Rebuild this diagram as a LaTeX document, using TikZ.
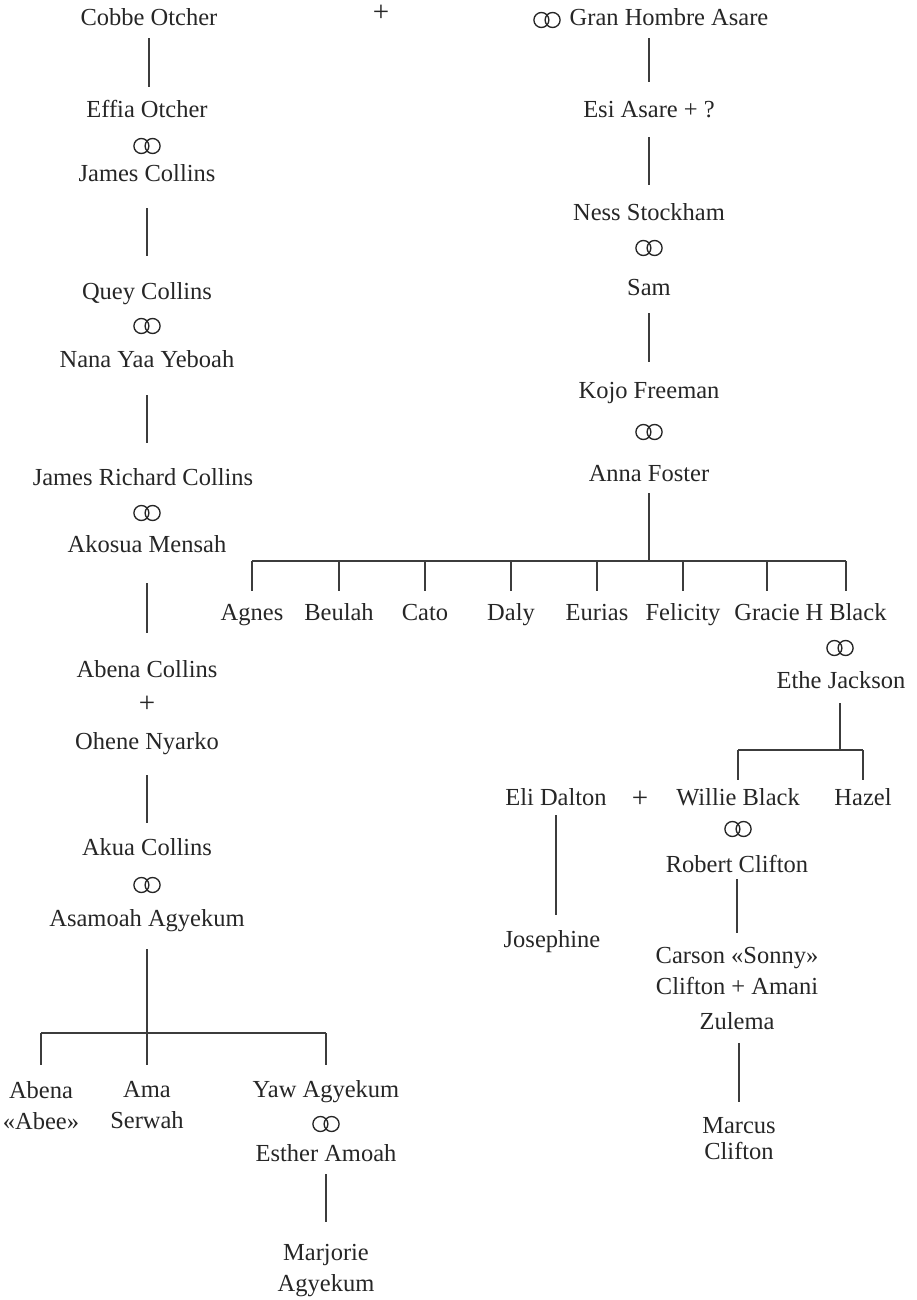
\documentclass[tikz,border=0pt]{standalone}
\usepackage{fontspec}
\setmainfont{Liberation Serif}
\usepackage{tikz}
\definecolor{ink}{HTML}{262626}
\definecolor{wire}{HTML}{3C3C3C}
\newcommand{\namesize}{\fontsize{24.5}{31}\selectfont}

\begin{document}
\begin{tikzpicture}[x=1pt, y=-1pt,
  person/.style={inner sep=0pt, text height=16pt, text depth=0pt, font=\namesize, text=ink},
  multi/.style={inner sep=0pt, anchor=north, align=center, font=\namesize, text=ink},
  wed/.style={inner sep=0pt, minimum width=32pt, minimum height=21pt,
    path picture={
      \draw[ink, line width=1.35pt] ([xshift=-5.6pt]path picture bounding box.center) circle (7.5pt);
      \draw[ink, line width=1.35pt] ([xshift=5.6pt]path picture bounding box.center) circle (7.5pt);}},
  union/.style={inner sep=0pt, font=\fontsize{29}{31}\selectfont, text=ink},
  link/.style 2 args={draw=wire, line width=1.1pt, shorten <=#1pt, shorten >=#2pt}]
\useasboundingbox (0,0) rectangle (917,1300);

\node[person] (cobbe) at (149,18) {Cobbe Otcher};
\node[union] (u0) at (381,13) {+};
\node[wed] (w0) at (547,20) {};
\node[person] (gran) at (669,18) {Gran Hombre Asare};

\node[person] (effia) at (147,110) {Effia Otcher};
\node[wed] (w1) at (147,146) {};
\node[person] (james) at (147,174) {James Collins};
\node[person] (quey) at (147,291) {Quey Collins};
\node[wed] (w2) at (147,326) {};
\node[person] (nana) at (147,359) {Nana Yaa Yeboah};
\node[person] (jamesr) at (143,477) {James Richard Collins};
\node[wed] (w3) at (147,513) {};
\node[person] (akosua) at (147,544) {Akosua Mensah};
\node[person] (abena) at (147,669) {Abena Collins};
\node[union] (u1) at (147,704) {+};
\node[person] (ohene) at (147,741) {Ohene Nyarko};
\node[person] (akua) at (147,847) {Akua Collins};
\node[wed] (w4) at (147,885) {};
\node[person] (asamoah) at (147,918) {Asamoah Agyekum};
\node[multi] (abee) at (41,1081) {Abena\\«Abee»};
\node[multi] (ama) at (147,1081) {Ama\\Serwah};
\node[person] (yaw) at (326,1089) {Yaw Agyekum};
\node[wed] (w5) at (326,1124) {};
\node[person] (esther) at (326,1153) {Esther Amoah};
\node[multi] (marjorie) at (326,1244) {Marjorie\\Agyekum};

\node[person] (esi) at (649,110) {Esi Asare + ?};
\node[person] (ness) at (649,212) {Ness Stockham};
\node[wed] (w6) at (649,248) {};
\node[person] (sam) at (649,287) {Sam};
\node[person] (kojo) at (649,390) {Kojo Freeman};
\node[wed] (w7) at (649,432) {};
\node[person] (anna) at (649,473) {Anna Foster};
\node[person] (agnes) at (252,612) {Agnes};
\node[person] (beulah) at (339,612) {Beulah};
\node[person] (cato) at (425,612) {Cato};
\node[person] (daly) at (511,612) {Daly};
\node[person] (eurias) at (597,612) {Eurias};
\node[person] (felicity) at (683,612) {Felicity};
\node[person] (gracie) at (767,612) {Gracie};
\node[person] (hblack) at (846,612) {H Black};
\node[wed] (w8) at (840,648) {};
\node[person] (ethe) at (841,680) {Ethe Jackson};
\node[person] (eli) at (556,797) {Eli Dalton};
\node[union] (u2) at (640,799) {+};
\node[person] (willie) at (738,797) {Willie Black};
\node[person] (hazel) at (863,797) {Hazel};
\node[wed] (w9) at (738,829) {};
\node[person] (robert) at (737,864) {Robert Clifton};
\node[person] (josephine) at (552,939) {Josephine};
\node[multi] (carson) at (737,947) {Carson «Sonny»\\Clifton + Amani\\[4pt]Zulema};
\node[multi, font=\fontsize{24.5}{26}\selectfont] (marcus) at (739,1117) {Marcus\\Clifton};

\draw[link={12}{15}] (cobbe.south) -- (cobbe.south |- effia.north);
\draw[link={26}{27}] (james.south) -- (james.south |- quey.north);
\draw[link={28}{26}] (nana.south) -- (nana.south |- jamesr.north);
\draw[link={31}{28}] (akosua.south) -- (akosua.south |- abena.north);
\draw[link={26}{16}] (ohene.south) -- (ohene.south |- akua.north);
\coordinate (fork1) at (147,1033);
\draw[link={23}{0}] (asamoah.south) -- (fork1);
\draw[link={0}{0}] (abee.north |- fork1) -- (yaw.north |- fork1);
\foreach \k in {abee,ama,yaw} \draw[link={0}{16}] (\k.north |- fork1) -- (\k.north);
\draw[link={13}{22}] (esther.south) -- (esther.south |- marjorie.north);

\draw[link={12}{20}] (esi |- gran.south) -- (esi.north);
\draw[link={19}{19}] (esi.south) -- (ness.north);
\draw[link={18}{20}] (sam.south) -- (kojo.north);
\coordinate (fork2) at (649,561);
\draw[link={12}{0}] (anna.south) -- (fork2);
\draw[link={0}{0}] (agnes.north |- fork2) -- (hblack.north |- fork2);
\foreach \k in {agnes,beulah,cato,daly,eurias,felicity,gracie,hblack} \draw[link={0}{13}] (\k.north |- fork2) -- (\k.north);
\coordinate (fork3) at (840,750);
\draw[link={15}{0}] (fork3 |- ethe.south) -- (fork3);
\draw[link={0}{0}] (willie.north |- fork3) -- (hazel.north |- fork3);
\foreach \k in {willie,hazel} \draw[link={0}{9}] (\k.north |- fork3) -- (\k.north);
\draw[link={10}{16}] (eli.south) -- (eli.south |- josephine.north);
\draw[link={7}{14}] (robert.south) -- (robert.south |- carson.north);
\draw[link={13}{15}] (marcus.north |- carson.south) -- (marcus.north);
\end{tikzpicture}
\end{document}
